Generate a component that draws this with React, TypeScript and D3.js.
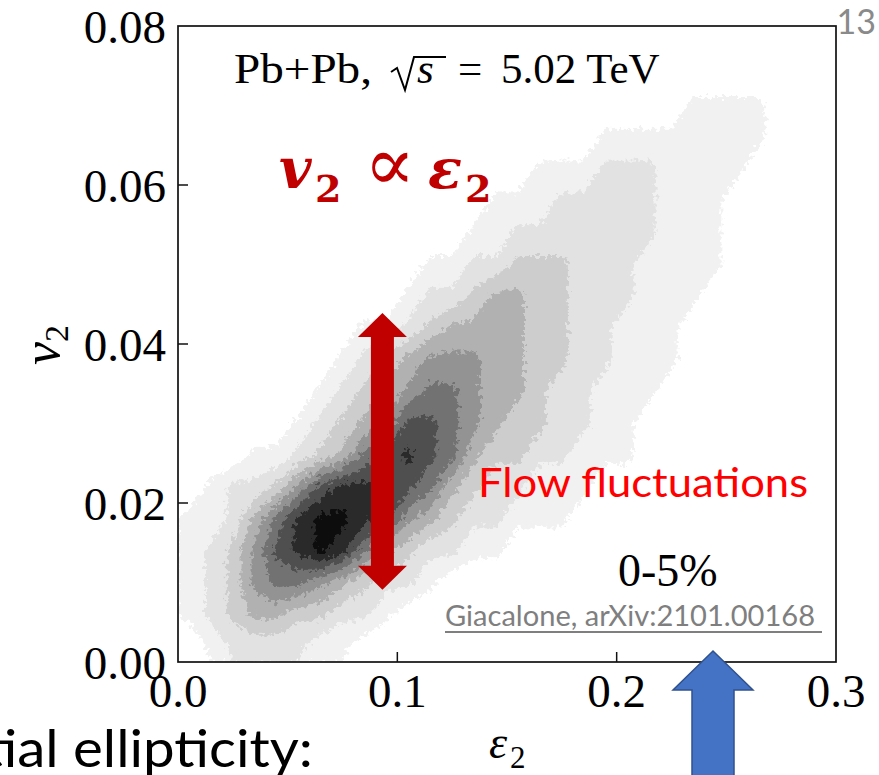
import React from "react";
import * as d3 from "d3";

const WIDTH = 879;
const HEIGHT = 775;

// Axis ticks
const xTicks = [0.0, 0.1, 0.2, 0.3];
const yTicks = [0.0, 0.02, 0.04, 0.06, 0.08];
const xTickLabels = ["0.0", "0.1", "0.2", "0.3"];
const yTickLabels = ["0.00", "0.02", "0.04", "0.06", "0.08"];

// 2D histogram of events: ε2 bins of width 0.01 (30 columns, 0–0.3),
// v2 bins of width 0.004 (20 rows, listed from the top row down).
const epsBinWidth = 0.01;
const v2BinWidth = 0.004;
const nEpsBins = 30;
const v2RowCenters = [
  0.078, 0.074, 0.07, 0.066, 0.062, 0.058, 0.054, 0.05, 0.046, 0.042,
  0.038, 0.034, 0.03, 0.026, 0.022, 0.018, 0.014, 0.01, 0.006, 0.002,
];
// first occupied ε2 bin of each row
const rowStart = [0, 0, 23, 19, 16, 14, 13, 11, 10, 8, 7, 6, 5, 3, 1, 0, 0, 0, 0, 1];
// density level (0 = empty … 9 = densest) of consecutive bins from rowStart
const rowShade = [
  "",
  "",
  "1111",
  "11111111",
  "1112221111",
  "11122222111",
  "112222222111",
  "11223332221111",
  "12234433222111",
  "112344443322111",
  "1234555443322111",
  "1234566544322111",
  "1234577654332211",
  "112346787643322111",
  "122357888764322111",
  "112468998754322111",
  "123578986432211",
  "123566543221",
  "1234433221",
  "1222211",
];
const shadeColors = [
  "#f1f1f1", "#e2e2e2", "#cdcdcd", "#b1b1b1", "#939393",
  "#727272", "#505050", "#2b2b2b", "#0a0a0a",
];
const shadeThresholds = [0.75, 1.75, 2.75, 3.75, 4.75, 5.75, 6.75, 7.75, 8.75];

// Double arrow marking the spread of v2 at fixed ε2
const arrowEps = 0.0932;
const arrowV2 = [0.0091, 0.0439];

const SERIF = "'Liberation Serif', 'DejaVu Serif', serif";
const MATH = "'DejaVu Serif', 'Liberation Serif', serif";
const SANS = "Lato, 'Open Sans', 'Noto Sans', sans-serif";

export default function App() {
  const x = d3.scaleLinear().domain([0, 0.3]).range([178, 836]);
  const y = d3.scaleLinear().domain([0, 0.08]).range([662, 26]);

  const nRows = v2RowCenters.length;
  const values: number[] = new Array(nEpsBins * nRows).fill(0);
  rowShade.forEach((s, j) => {
    for (let k = 0; k < s.length; k++) {
      values[j * nEpsBins + rowStart[j] + k] = +s[k];
    }
  });

  const topV2 = v2RowCenters[0] + v2BinWidth / 2;
  const bands = d3.contours().size([nEpsBins, nRows]).thresholds(shadeThresholds)(values);

  const proj = d3.geoTransform({
    point(px: number, py: number) {
      (this as any).stream.point(x(px * epsBinWidth), y(topV2 - py * v2BinWidth));
    },
  });
  const path = d3.geoPath(proj);

  const [x0, x1] = x.range();
  const [y0, y1] = y.range();

  const ax = x(arrowEps);
  const aTop = y(arrowV2[1]);
  const aBot = y(arrowV2[0]);
  const headLen = 24;
  const headHalf = 24.5;
  const shaftHalf = 11.5;
  const redArrow = [
    [ax, aTop],
    [ax + headHalf, aTop + headLen],
    [ax + shaftHalf, aTop + headLen],
    [ax + shaftHalf, aBot - headLen],
    [ax + headHalf, aBot - headLen],
    [ax, aBot],
    [ax - headHalf, aBot - headLen],
    [ax - shaftHalf, aBot - headLen],
    [ax - shaftHalf, aTop + headLen],
    [ax - headHalf, aTop + headLen],
  ];

  const blueArrow = [
    [713, 651],
    [753, 690],
    [734, 690],
    [734, 790],
    [692, 790],
    [692, 690],
    [673, 690],
  ];

  return (
    <svg
      width={WIDTH}
      height={HEIGHT}
      viewBox={`0 0 ${WIDTH} ${HEIGHT}`}
      style={{ position: "absolute", left: 0, top: 0, background: "#fff" }}
    >
      <defs>
        <clipPath id="plotClip">
          <rect x={x0} y={y1} width={x1 - x0} height={y0 - y1} />
        </clipPath>
        <filter id="rough" x="-5%" y="-5%" width="110%" height="110%">
          <feTurbulence type="fractalNoise" baseFrequency="0.23" numOctaves="2" seed="7" result="noise" />
          <feDisplacementMap in="SourceGraphic" in2="noise" scale="14" xChannelSelector="R" yChannelSelector="G" />
        </filter>
      </defs>

      <rect x={0} y={0} width={WIDTH} height={HEIGHT} fill="#fff" />

      {/* density bands */}
      <g clipPath="url(#plotClip)">
        <g filter="url(#rough)">
          {bands.map((b, i) => (
            <path key={i} d={path(b as any) || ""} fill={shadeColors[i]} stroke={shadeColors[i]} strokeWidth={1} />
          ))}
        </g>
      </g>

      {/* frame */}
      <rect x={x0} y={y1} width={x1 - x0} height={y0 - y1} fill="none" stroke="#111" strokeWidth={1.7} />

      {/* ticks */}
      {yTicks.map((t, i) => (
        <g key={"y" + i}>
          {t > 0 && t < 0.08 && <line x1={x0} x2={x0 + 10} y1={y(t)} y2={y(t)} stroke="#111" strokeWidth={1.5} />}
          <text x={166} y={y(t) + 17} textAnchor="end" fontFamily={SERIF} fontSize={47} fill="#000">
            {yTickLabels[i]}
          </text>
        </g>
      ))}
      {xTicks.map((t, i) => (
        <g key={"x" + i}>
          {t > 0 && t < 0.3 && <line x1={x(t)} x2={x(t)} y1={y0} y2={y0 - 10} stroke="#111" strokeWidth={1.5} />}
          <text x={x(t)} y={707} textAnchor="middle" fontFamily={SERIF} fontSize={47} fill="#000">
            {xTickLabels[i]}
          </text>
        </g>
      ))}

      {/* axis titles */}
      <text x={489} y={758} fontFamily={SERIF} fontStyle="italic" fontSize={46} fill="#000">
        ε
      </text>
      <text x={510} y={768} fontFamily={SERIF} fontSize={31} fill="#000">
        2
      </text>
      <g transform="translate(59,345) rotate(-90)">
        <text x={0} y={0} textAnchor="middle" fontFamily={SERIF} fontSize={52} fill="#000">
          <tspan fontStyle="italic">v</tspan>
          <tspan fontSize={34} dy={9}>2</tspan>
        </text>
      </g>

      {/* collision label */}
      <text x={234} y={83} fontFamily={SERIF} fontSize={43} fill="#000" textLength={138} lengthAdjust="spacingAndGlyphs">
        Pb+Pb,
      </text>
      <path d="M391,72 L397,68 L405,90 L414,57 L446,57" fill="none" stroke="#000" strokeWidth={2} strokeLinejoin="miter" />
      <text x={417} y={83} fontFamily={SERIF} fontStyle="italic" fontSize={43} fill="#000">
        s
      </text>
      <text x={458} y={83} fontFamily={SERIF} fontSize={43} fill="#000">
        =
      </text>
      <text x={501} y={83} fontFamily={SERIF} fontSize={43} fill="#000">
        5.02 TeV
      </text>

      {/* v2 ∝ ε2 */}
      <g fill="#C00000" fontFamily={MATH} fontWeight="bold">
        <text x={279} y={188} fontStyle="italic" fontSize={56}>v</text>
        <text x={315} y={202} fontSize={38}>2</text>
        <text x={364} y={190} fontSize={76} fontWeight="normal">∝</text>
        <text x={428} y={188} fontStyle="italic" fontSize={56}>ε</text>
        <text x={465} y={202} fontSize={38}>2</text>
      </g>

      {/* fluctuation arrow */}
      <polygon points={redArrow.map((p) => p.join(",")).join(" ")} fill="#C00000" />

      <text x={478} y={497} fontFamily={SANS} fontSize={40} fill="#FF0000" textLength={330} lengthAdjust="spacingAndGlyphs">
        Flow fluctuations
      </text>

      <text x={618} y={586} fontFamily={SERIF} fontSize={46} fill="#000">
        0-5%
      </text>

      <text x={445} y={626} fontFamily={SANS} fontSize={28} fill="#7f7f7f" textLength={370} lengthAdjust="spacingAndGlyphs">
        Giacalone, arXiv:2101.00168
      </text>
      <line x1={445} x2={822} y1={632} y2={632} stroke="#7f7f7f" strokeWidth={2} />

      {/* slide furniture */}
      <text x={876} y={34} textAnchor="end" fontFamily={SANS} fontSize={34} fill="#8a8a8a">
        13
      </text>
      <polygon points={blueArrow.map((p) => p.join(",")).join(" ")} fill="#4472C4" stroke="#2F528F" strokeWidth={1.5} />
      <text x={-78} y={767} fontFamily={SANS} fontSize={52} fill="#000" textLength={391} lengthAdjust="spacingAndGlyphs">
        Initial ellipticity:
      </text>
    </svg>
  );
}
